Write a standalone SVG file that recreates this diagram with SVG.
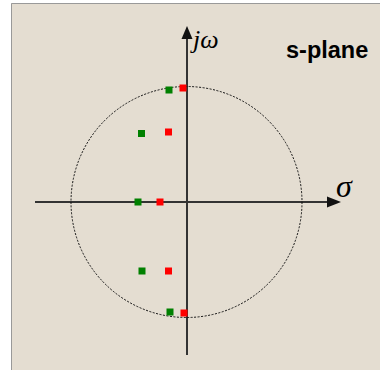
<svg xmlns="http://www.w3.org/2000/svg" width="380" height="370" viewBox="0 0 380 370">
<defs>
<style>
.axis{stroke:#333;stroke-width:2;fill:none}
.red{fill:#ff0000}
.green{fill:#008000}
.lbl{font-family:"Liberation Serif","Times New Roman",serif;font-style:italic;fill:#000}
.title{font-family:"Liberation Sans",Arial,sans-serif;font-weight:bold;fill:#000}
</style>
</defs>
<rect x="0" y="0" width="380" height="370" fill="#ffffff"/>
<rect x="11" y="3" width="369" height="367" fill="#e4ddd1"/>
<path d="M11.5 370 V3.5 H380" stroke="#999" stroke-width="1" fill="none"/>
<g id="connectors">
<line class="axis" x1="35" y1="202" x2="330" y2="202"/>
<polygon points="341,202 327,196.5 327,207.5" fill="#111"/>
<line class="axis" x1="187" y1="355" x2="187" y2="36"/>
<polygon points="187,26 181.5,39 192.5,39" fill="#111"/>
</g>
<g id="unit-circle">
<circle cx="186.5" cy="202" r="115.5" fill="none" stroke="#111" stroke-width="1" stroke-dasharray="2,1.5"/>
</g>
<g id="poles">
<rect class="red" x="179.5" y="84.5" width="7" height="7"/>
<rect class="red" x="165" y="128.5" width="7" height="7"/>
<rect class="red" x="156.5" y="198.5" width="7" height="7"/>
<rect class="red" x="165" y="267.5" width="7" height="7"/>
<rect class="red" x="180.5" y="309.5" width="7" height="7"/>
</g>
<g id="zeros">
<rect class="green" x="165.5" y="86.5" width="7" height="7"/>
<rect class="green" x="138" y="130" width="7" height="7"/>
<rect class="green" x="134.5" y="198.5" width="7" height="7"/>
<rect class="green" x="138.5" y="267.5" width="7" height="7"/>
<rect class="green" x="166.5" y="308.5" width="7" height="7"/>
</g>
<g id="labels">
<text class="lbl" x="193" y="48" font-size="26">jω</text>
<text class="lbl" x="336" y="197" font-size="32">σ</text>
<text class="title" x="286" y="58" font-size="23.5">s-plane</text>
</g>
</svg>
